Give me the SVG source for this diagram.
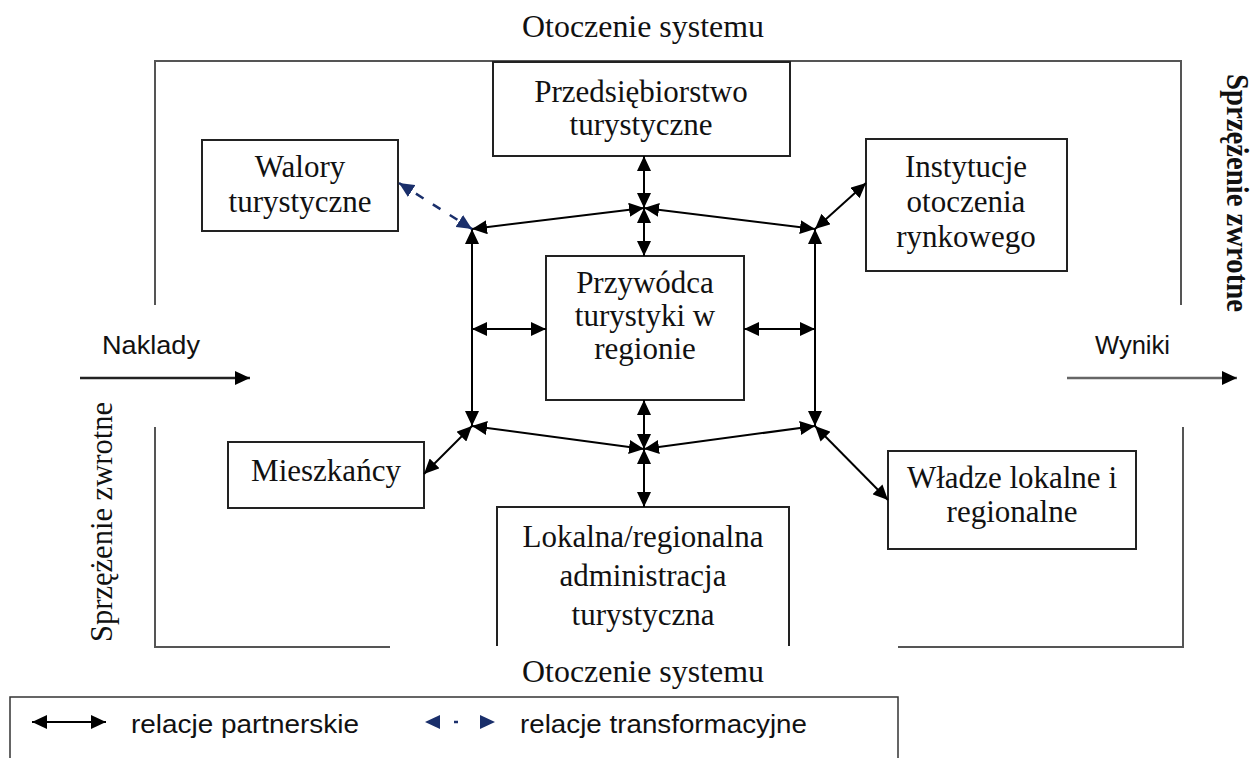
<svg xmlns="http://www.w3.org/2000/svg" width="1255" height="758" viewBox="0 0 1255 758">
<defs>
<marker id="ah" viewBox="0 0 15 14" refX="15" refY="7" markerWidth="15" markerHeight="14" markerUnits="userSpaceOnUse" orient="auto-start-reverse">
<path d="M0,0 L15,7 L0,14 z" fill="#000"/>
</marker>
<marker id="ahb" viewBox="0 0 15 14" refX="15" refY="7" markerWidth="15" markerHeight="14" markerUnits="userSpaceOnUse" orient="auto-start-reverse">
<path d="M0,0 L15,7 L0,14 z" fill="#1a2f6b"/>
</marker>
<style>
.t{font-family:"Liberation Serif","Times New Roman",serif;font-size:31px;fill:#111;text-anchor:middle}
.s{font-family:"Liberation Sans",Arial,sans-serif;font-size:25px;fill:#111}
.box{fill:#fff;stroke:#222;stroke-width:2}
.frame{fill:none;stroke:#555;stroke-width:2}
.c{stroke:#000;stroke-width:2;fill:none;marker-start:url(#ah);marker-end:url(#ah)}
.d{stroke:#1a2f6b;stroke-width:2.5;fill:none;stroke-dasharray:9 11;marker-start:url(#ahb);marker-end:url(#ahb)}
</style>
</defs>
<rect width="1255" height="758" fill="#fff"/>

<g id="frame">
<path class="frame" d="M155,305 V61 H1181 V305"/>
<path class="frame" d="M155,427 V647 H390"/>
<path class="frame" d="M898,647 H1183 V427"/>
<text class="t" x="643" y="37" textLength="242" lengthAdjust="spacingAndGlyphs">Otoczenie systemu</text>
<text class="t" x="643" y="682" textLength="242" lengthAdjust="spacingAndGlyphs">Otoczenie systemu</text>
<text class="t" transform="translate(112,522) rotate(-90)" textLength="240" lengthAdjust="spacingAndGlyphs">Sprzężenie zwrotne</text>
<text class="t" transform="translate(1227,193) rotate(90)" font-weight="bold" textLength="238" lengthAdjust="spacingAndGlyphs">Sprzężenie zwrotne</text>
</g>

<g id="naklady">
<text class="s" x="102" y="354" textLength="98" lengthAdjust="spacingAndGlyphs">Naklady</text>
<line x1="80" y1="378" x2="250" y2="378" stroke="#222" stroke-width="2.5" marker-end="url(#ah)"/>
</g>
<g id="wyniki">
<text class="s" x="1095" y="354" textLength="75" lengthAdjust="spacingAndGlyphs">Wyniki</text>
<line x1="1067" y1="378" x2="1237" y2="378" stroke="#666" stroke-width="2.5" marker-end="url(#ah)"/>
</g>

<g id="przedsiebiorstwo">
<rect class="box" x="493" y="62" width="297" height="94"/>
<text class="t" x="641" y="102">Przedsiębiorstwo</text>
<text class="t" x="641" y="135">turystyczne</text>
</g>

<g id="walory">
<rect class="box" x="202" y="140" width="196" height="91"/>
<text class="t" x="300" y="177">Walory</text>
<text class="t" x="300" y="212">turystyczne</text>
</g>

<g id="instytucje">
<rect class="box" x="866" y="139" width="201" height="132"/>
<text class="t" x="966" y="177">Instytucje</text>
<text class="t" x="966" y="212">otoczenia</text>
<text class="t" x="966" y="247">rynkowego</text>
</g>

<g id="przywodca">
<rect class="box" x="546" y="256" width="198" height="144"/>
<text class="t" x="645" y="293">Przywódca</text>
<text class="t" x="645" y="326">turystyki w</text>
<text class="t" x="645" y="359">regionie</text>
</g>

<g id="mieszkancy">
<rect class="box" x="228" y="442" width="196" height="66"/>
<text class="t" x="326" y="481">Mieszkańcy</text>
</g>

<g id="wladze">
<rect class="box" x="888" y="451" width="248" height="98"/>
<text class="t" x="1012" y="488">Władze lokalne i</text>
<text class="t" x="1012" y="522">regionalne</text>
</g>

<g id="lokalna">
<path class="box" d="M497,646 V507 H789 V646"/>
<text class="t" x="643" y="547">Lokalna/regionalna</text>
<text class="t" x="643" y="586">administracja</text>
<text class="t" x="643" y="625">turystyczna</text>
</g>

<g id="connectors">
<line class="c" x1="644" y1="156" x2="644" y2="208"/>
<line class="c" x1="644" y1="208" x2="644" y2="256"/>
<line class="c" x1="472" y1="229" x2="644" y2="208"/>
<line class="c" x1="644" y1="208" x2="815" y2="229"/>
<line class="c" x1="472" y1="229" x2="472" y2="426"/>
<line class="c" x1="815" y1="229" x2="815" y2="426"/>
<line class="c" x1="472" y1="329" x2="546" y2="329"/>
<line class="c" x1="744" y1="329" x2="815" y2="329"/>
<line class="c" x1="644" y1="400" x2="644" y2="449"/>
<line class="c" x1="644" y1="449" x2="644" y2="507"/>
<line class="c" x1="472" y1="426" x2="644" y2="449"/>
<line class="c" x1="644" y1="449" x2="815" y2="426"/>
<line class="c" x1="424" y1="474" x2="472" y2="426"/>
<line class="c" x1="888" y1="500" x2="815" y2="426"/>
<line class="c" x1="815" y1="229" x2="866" y2="183"/>
<line class="d" x1="399" y1="183" x2="472" y2="229"/>
</g>

<g id="legend">
<path d="M10,760 V697 H898 V760" fill="none" stroke="#333" stroke-width="1.5"/>
<line class="c" x1="32" y1="722" x2="106" y2="722"/>
<text class="s" x="131" y="733" font-size="23" textLength="228" lengthAdjust="spacingAndGlyphs">relacje partnerskie</text>
<line x1="425" y1="722" x2="495" y2="722" stroke="#1a2f6b" stroke-width="2.5" stroke-dasharray="0 29 4 37" marker-start="url(#ahb)" marker-end="url(#ahb)"/>
<text class="s" x="520" y="733" font-size="23" textLength="287" lengthAdjust="spacingAndGlyphs">relacje transformacyjne</text>
</g>
</svg>
